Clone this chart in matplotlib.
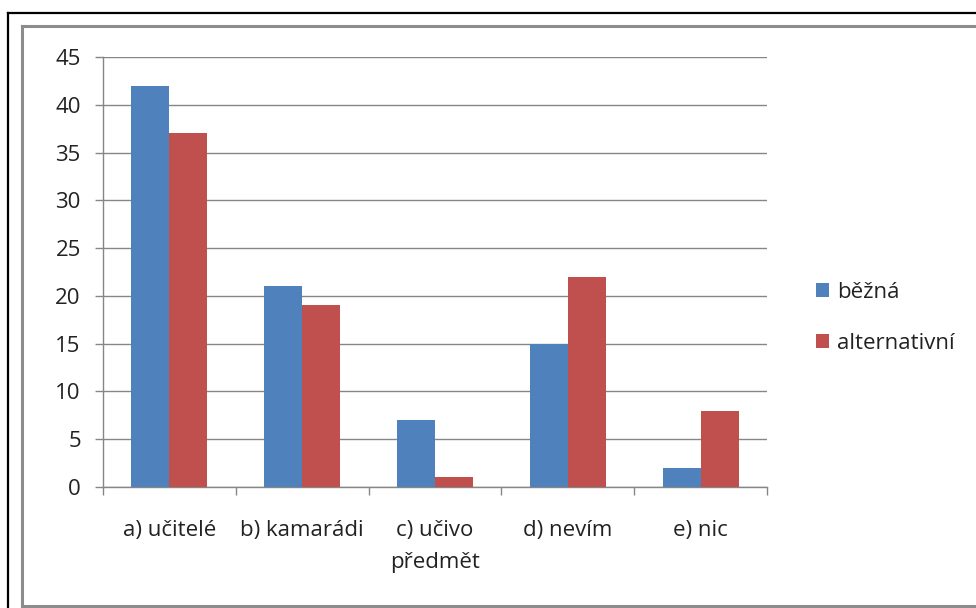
import numpy as np
import matplotlib
matplotlib.use('Agg')
import matplotlib.pyplot as plt
from matplotlib.lines import Line2D

categories = ["a) učitelé", "b) kamarádi", "c) učivo\npředmět", "d) nevím", "e) nic"]
bezna = [42, 21, 7, 15, 2]
alternativni = [37, 19, 1, 22, 8]
series_names = ["běžná", "alternativní"]
yticks = [0, 5, 10, 15, 20, 25, 30, 35, 40, 45]

plt.rcParams['font.family'] = ['Open Sans', 'DejaVu Sans']

W, H = 976, 608
dpi = 100
fig = plt.figure(figsize=(W/dpi, H/dpi), dpi=dpi)
fig.patch.set_facecolor('white')

# frame lines around the chart
def fline(x0, y0, x1, y1, **kw):
	fig.add_artist(Line2D([x0/W, x1/W], [1-y0/H, 1-y1/H], transform=fig.transFigure, **kw))

fline(8, 13, 990, 13, color='black', lw=1.6)
fline(8, 13, 8, 620, color='black', lw=1.6)
fline(22, 26, 990, 26, color='#8c8c8c', lw=2.2)
fline(22, 26, 22, 606, color='#8c8c8c', lw=2.2)
fline(22, 606, 990, 606, color='#8c8c8c', lw=2.2)

left, right, top, bottom = 103, 767, 57, 487
ax = fig.add_axes([left/W, 1-bottom/H, (right-left)/W, (bottom-top)/H])

x = np.arange(len(categories))
bw = 1/3.5
ax.bar(x - bw/2, bezna, bw, color='#4F81BD', label=series_names[0], zorder=3)
ax.bar(x + bw/2, alternativni, bw, color='#C0504D', label=series_names[1], zorder=3)

ax.set_xlim(-0.5, len(categories)-0.5)
ax.set_ylim(0, 45)
ax.set_yticks(yticks)
ax.yaxis.grid(True, color='#868686', lw=1, zorder=0)
ax.set_axisbelow(True)

for s in ['top', 'right']:
	ax.spines[s].set_visible(False)
for s in ['left', 'bottom']:
	ax.spines[s].set_color('#868686')
	ax.spines[s].set_linewidth(1)

fs = 16
ax.set_xticks(x)
ax.set_xticklabels(categories, fontsize=fs, color='#222222', linespacing=1.65)
ax.set_xticks(np.arange(len(categories)+1) - 0.5, minor=True)
ax.tick_params(axis='x', which='major', length=0, pad=24)
ax.tick_params(axis='x', which='minor', length=6, color='#868686', width=1)
ax.tick_params(axis='y', length=6, color='#868686', width=1, labelsize=fs, labelcolor='#222222', pad=10)
for lbl in ax.get_xticklabels():
	lbl.set_verticalalignment('top')

leg = ax.legend(loc='center left', bbox_to_anchor=(796/W, 1-318/H), bbox_transform=fig.transFigure,
	frameon=False, fontsize=fs, handlelength=0.6, handleheight=0.6, handletextpad=0.35,
	labelspacing=1.35, labelcolor='#222222')

fig.savefig('out.png', dpi=dpi)
plt.close(fig)
